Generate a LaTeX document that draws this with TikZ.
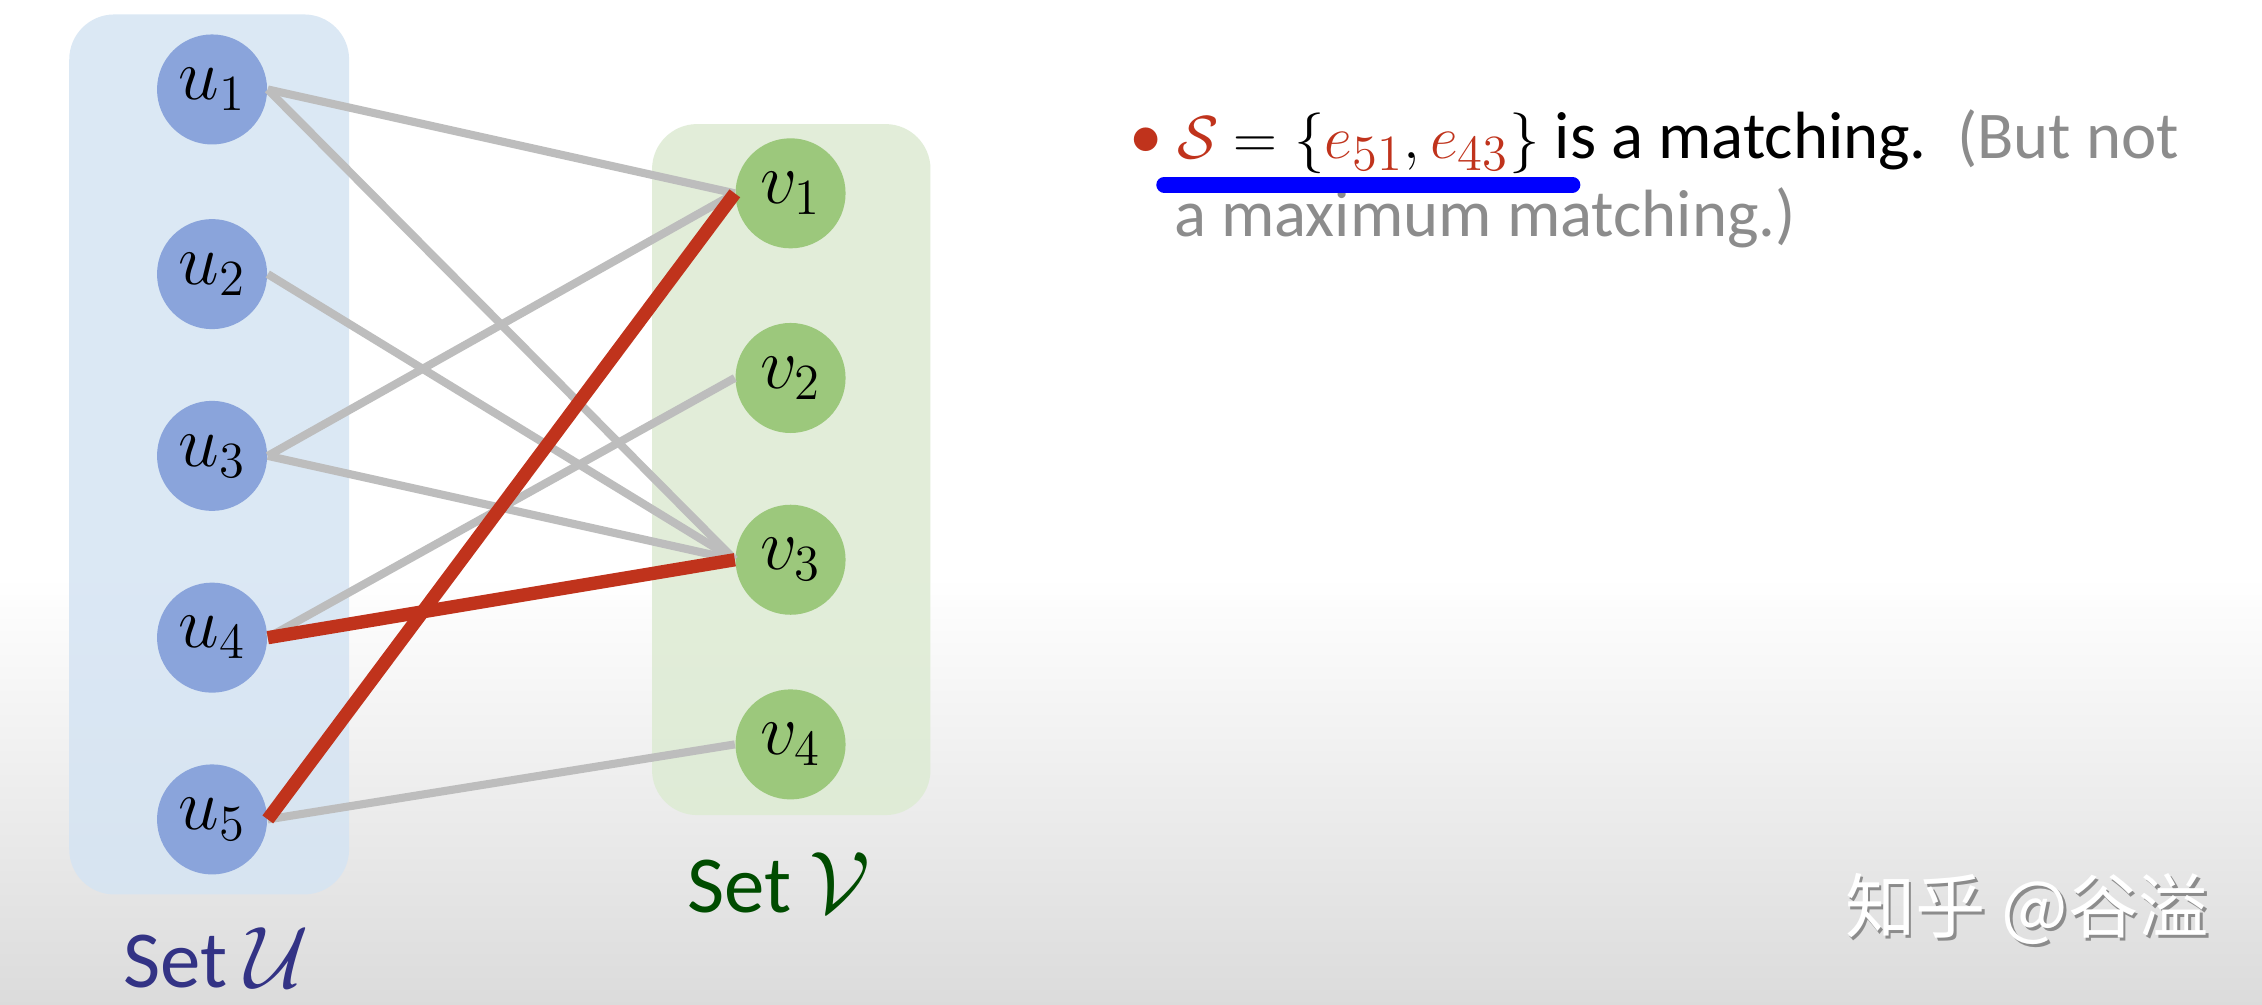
\documentclass[tikz,border=0pt]{standalone}
\usepackage{amsmath}
\usepackage{fontspec}
\setmainfont{Carlito}
\newfontfamily\cjk{Noto Sans CJK SC}
\usepackage{tikz}
\usetikzlibrary{positioning}
\definecolor{setblue}{HTML}{D5E4F3}
\definecolor{setgreen}{HTML}{DDEBD3}
\definecolor{ublue}{HTML}{8AA4DB}
\definecolor{vgreen}{HTML}{9CC87C}
\definecolor{edgegray}{HTML}{BDBDBD}
\definecolor{matchred}{HTML}{C0331C}
\definecolor{txtgray}{HTML}{8C8C8C}
\begin{document}
\begin{tikzpicture}[x=0.014426cm,y=-0.014426cm,
  unode/.style = {circle,fill=ublue,minimum size=1.1cm,inner sep=0pt,font=\fontsize{21}{24}\selectfont},
  vnode/.style = {circle,fill=vgreen,minimum size=1.1cm,inner sep=0pt,font=\fontsize{21}{24}\selectfont},
  edge/.style = {edgegray,line width=2.3pt},
  match/.style = {matchred,line width=3.8pt}]
\useasboundingbox (0,0) rectangle (1568,696);
\fill[white] (0,0) rectangle (1568,400);
\shade[top color=white,bottom color=black!14] (0,400) rectangle (1568,696);
% the two sets
\fill[setblue,opacity=0.85,rounded corners=0.45cm] (48,10) rectangle (242,620);
\fill[setgreen,opacity=0.85,rounded corners=0.45cm] (452,86) rectangle (645,565);
\node[unode] (u1) at (147,62) {$u_1$};
\node[unode] (u2) at (147,190) {$u_2$};
\node[unode] (u3) at (147,316) {$u_3$};
\node[unode] (u4) at (147,442) {$u_4$};
\node[unode] (u5) at (147,568) {$u_5$};
\node[vnode] (v1) at (548,134) {$v_1$};
\node[vnode] (v2) at (548,262) {$v_2$};
\node[vnode] (v3) at (548,388) {$v_3$};
\node[vnode] (v4) at (548,516) {$v_4$};
\draw[edge] (u1.east) -- (v1.west);
\draw[edge] (u1.east) -- (v3.west);
\draw[edge] (u2.east) -- (v3.west);
\draw[edge] (u3.east) -- (v1.west);
\draw[edge] (u3.east) -- (v3.west);
\draw[edge] (u4.east) -- (v2.west);
\draw[edge] (u5.east) -- (v4.west);
\draw[match] (u4.east) -- (v3.west);
\draw[match] (u5.east) -- (v1.west);
\node[text=blue!40!black!80,font=\fontsize{23}{26}\selectfont] (setu) at (150,664) {Set $\mathcal{U}$};
\node[text=green!30!black,font=\fontsize{23}{26}\selectfont] (setv) at (540,612) {Set $\mathcal{V}$};
% text on the right
\node[anchor=west,align=left,font=\fontsize{19}{22}\selectfont] (txt) at (774,124)
  {\textcolor{matchred}{\textbullet}\ \textcolor{matchred}{$\mathcal{S}$}
   $=\{\textcolor{matchred}{e_{51}},\textcolor{matchred}{e_{43}}\}$ is a matching.\ \ \textcolor{txtgray}{(But not}\\
   \hspace*{0.45cm}\textcolor{txtgray}{a maximum matching.)}};
\coordinate (ula) at (807,128);
\coordinate (ulb) at (1090,128);
\draw[blue,line width=4.5pt,line cap=round] (ula) -- (ulb);
\node[text=black!45,font=\cjk\fontsize{20}{22}\selectfont] (markshadow) at (1407,632) {知乎 @谷溢};
\node[text=white,font=\cjk\fontsize{20}{22}\selectfont] (mark) at (1405,630) {知乎 @谷溢};
\end{tikzpicture}
\end{document}
